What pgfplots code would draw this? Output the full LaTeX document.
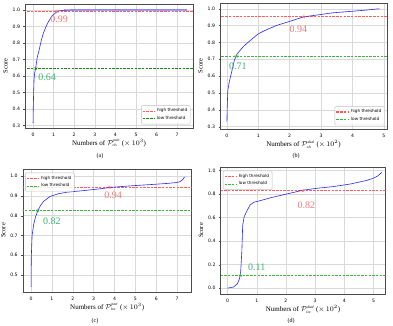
\documentclass[border=0pt]{standalone}
\usepackage{fontspec}
\setmainfont{Liberation Serif}
\newfontfamily\dejavu{DejaVu Sans}
\usepackage{pgfplots}
\pgfplotsset{compat=1.18}

\definecolor{curve}{RGB}{40,40,250}
\definecolor{hiline}{RGB}{250,95,95}
\definecolor{hitext}{RGB}{240,120,120}
\definecolor{loline}{RGB}{30,130,30}
\definecolor{loline2}{RGB}{70,175,70}
\definecolor{lotext}{RGB}{60,179,113}

\newcommand{\sm}[1]{\mbox{\fontsize{3.8}{4}\selectfont\itshape #1}}
\newcommand{\PP}[2]{\mathcal{P}^{\sm{#1}}_{\sm{#2}}}
\tikzset{lab/.style={font=\fontsize{10}{10}\selectfont}}

\pgfplotsset{
  panel/.style={
    scale only axis, anchor=south west,
    axis line style={black!70, line width=0.4pt},
    grid=major, grid style={gray!30, line width=0.4pt},
    tick align=outside, major tick length=1.5pt, tick style={black!70},
    xtick pos=bottom, ytick pos=left,
    ticklabel style={font=\dejavu\fontsize{4.6}{5}\selectfont},
    /pgf/number format/assume math mode=true,
    yticklabel style={/pgf/number format/fixed, /pgf/number format/fixed zerofill, /pgf/number format/precision=1},
    xlabel style={font=\fontsize{7}{8}\selectfont, yshift=4.5pt},
    ylabel style={font=\fontsize{6.5}{7}\selectfont, yshift=-2pt},
    ylabel={Score},
    legend style={font=\dejavu\fontsize{4.2}{5}\selectfont, draw=black!25, rounded corners=1pt,
      inner sep=1pt, row sep=-1pt, fill=white, fill opacity=0.85, text opacity=1},
    legend cell align=left,
    legend image code/.code={\draw[##1] (0pt,0pt) -- (12pt,0pt);},
  },
  hi/.style={hiline, line width=0.65pt, dash pattern=on 2.5pt off 1.2pt},
  lo/.style={loline, line width=0.65pt, dash pattern=on 2.5pt off 1.2pt},
  cv/.style={curve, line width=0.6pt, forget plot},
  st/.style={only marks, mark=star, mark size=2pt, forget plot},
}

\begin{document}
\begin{tikzpicture}
\useasboundingbox (0,0) rectangle (393pt,326pt);

% (a)
\begin{axis}[panel, at={(25pt,198pt)}, width=168pt, height=124pt,
  xmin=-0.39, xmax=7.77, ymin=0.285, ymax=1.036,
  xtick={0,...,7}, ytick={0.3,0.4,...,1.0},
  xlabel={Numbers of $\PP{pair}{cls}$ ($\times\,10^3$)},
  legend style={at={(0.985,0.03)}, anchor=south east}]
\addplot[hi] coordinates {(-1,0.992) (9,0.992)};
\addlegendentry{high threshold}
\addplot[lo] coordinates {(-1,0.647) (9,0.647)};
\addlegendentry{low threshold}
\addplot[curve!45, line width=1.3pt, forget plot] coordinates {(1.5,0.999) (7.49,1.0)};
\addplot[cv] coordinates {
  (0,0.314) (0.01,0.40) (0.03,0.50) (0.05,0.58) (0.08,0.62) (0.13,0.647)
  (0.2,0.71) (0.29,0.754) (0.4,0.815) (0.49,0.855) (0.6,0.89) (0.73,0.925)
  (0.9,0.96) (1.05,0.978) (1.17,0.99) (1.3,0.995) (1.5,0.998) (2,1.0) (7.49,1.0)};
\addplot[st, hiline] coordinates {(1.17,0.992)};
\addplot[st, loline] coordinates {(0.13,0.647)};
\node[lab, text=hitext] at (axis cs:1.27,0.945) {0.99};
\node[lab, text=lotext] at (axis cs:0.68,0.59) {0.64};
\end{axis}

% (b)
\begin{axis}[panel, at={(220pt,197pt)}, width=167pt, height=126pt,
  xmin=-0.22, xmax=5.1, ymin=0.286, ymax=1.034,
  xtick={0,...,5}, ytick={0.3,0.4,...,1.0},
  xlabel={Numbers of $\PP{dual}{cls}$ ($\times\,10^2$)},
  hi/.append style={line width=1.1pt}, lo/.append style={loline2, line width=1.1pt},
  legend style={at={(0.985,0.03)}, anchor=south east}]
\addplot[hi] coordinates {(-1,0.953) (9,0.953)};
\addlegendentry{high threshold}
\addplot[lo] coordinates {(-1,0.718) (9,0.718)};
\addlegendentry{low threshold}
\addplot[cv] coordinates {
  (0,0.33) (0.01,0.42) (0.03,0.517) (0.08,0.57) (0.14,0.616) (0.24,0.695)
  (0.32,0.73) (0.45,0.76) (0.55,0.78) (0.67,0.80) (0.8,0.82) (0.99,0.85)
  (1.2,0.87) (1.57,0.90) (2.0,0.925) (2.45,0.952) (3.0,0.966) (3.38,0.976)
  (4.0,0.985) (4.5,0.993) (4.86,1.0)};
\addplot[st, hiline] coordinates {(2.45,0.953)};
\addplot[st, loline2] coordinates {(0.3,0.718)};
\node[lab, text=hitext] at (axis cs:2.28,0.88) {0.94};
\node[lab, text=lotext] at (axis cs:0.35,0.66) {0.71};
\end{axis}

% (c)
\begin{axis}[panel, at={(22.7pt,34pt)}, width=169pt, height=123pt,
  xmin=-0.4, xmax=7.7, ymin=0.415, ymax=1.035,
  xtick={0,...,7}, ytick={0.5,0.6,...,1.0},
  xlabel={Numbers of $\PP{pair}{loc}$ ($\times\,10^3$)},
  lo/.append style={loline2},
  legend style={at={(0.015,0.97)}, anchor=north west}]
\addplot[hi] coordinates {(-1,0.943) (9,0.943)};
\addlegendentry{high threshold}
\addplot[lo] coordinates {(-1,0.826) (9,0.826)};
\addlegendentry{low threshold}
\addplot[cv] coordinates {
  (0,0.441) (0.01,0.585) (0.05,0.70) (0.13,0.757) (0.22,0.795) (0.32,0.823)
  (0.45,0.85) (0.6,0.872) (0.92,0.897) (1.3,0.91) (1.72,0.918) (2.5,0.926)
  (3.3,0.935) (3.78,0.942) (4.9,0.951) (5.8,0.957) (6.49,0.962) (6.9,0.966)
  (7.12,0.97) (7.25,0.98) (7.36,0.995)};
\addplot[st, hiline] coordinates {(3.78,0.943)};
\addplot[st, loline2] coordinates {(0.32,0.826)};
\node[lab, text=hitext] at (axis cs:3.94,0.905) {0.94};
\node[lab, text=lotext] at (axis cs:1.0,0.77) {0.82};
\end{axis}

% (d)
\begin{axis}[panel, at={(220.5pt,32pt)}, width=165pt, height=127pt,
  xmin=-0.24, xmax=5.41, ymin=-0.05, ymax=1.03,
  xtick={0,...,5}, ytick={0,0.2,...,1.0},
  xlabel={Numbers of $\PP{dual}{loc}$ ($\times\,10^2$)},
  lo/.append style={loline2},
  legend style={at={(0.015,0.97)}, anchor=north west}]
\addplot[hi] coordinates {(-1,0.829) (9,0.829)};
\addlegendentry{high threshold}
\addplot[lo] coordinates {(-1,0.108) (9,0.108)};
\addlegendentry{low threshold}
\addplot[cv] coordinates {
  (0,0.0) (0.2,0.009) (0.34,0.037) (0.41,0.08) (0.45,0.137) (0.47,0.22)
  (0.49,0.31) (0.52,0.535) (0.57,0.607) (0.65,0.65) (0.77,0.706) (0.9,0.73)
  (1.06,0.74) (1.5,0.77) (2.02,0.80) (2.59,0.833) (3.1,0.85) (3.61,0.863)
  (4.2,0.885) (4.75,0.915) (5.0,0.935) (5.15,0.955) (5.28,0.985)};
\addplot[st, hiline] coordinates {(2.59,0.829)};
\addplot[st, loline2] coordinates {(0.45,0.108)};
\node[lab, text=hitext] at (axis cs:2.7,0.706) {0.82};
\node[lab, text=lotext] at (axis cs:1.0,0.174) {0.11};
\end{axis}

\node[font=\fontsize{6}{7}\selectfont] at (100pt,169.5pt) {(a)};
\node[font=\fontsize{6}{7}\selectfont] at (296pt,169.5pt) {(b)};
\node[font=\fontsize{6}{7}\selectfont] at (95pt,5pt) {(c)};
\node[font=\fontsize{6}{7}\selectfont] at (291pt,5pt) {(d)};
\end{tikzpicture}
\end{document}
